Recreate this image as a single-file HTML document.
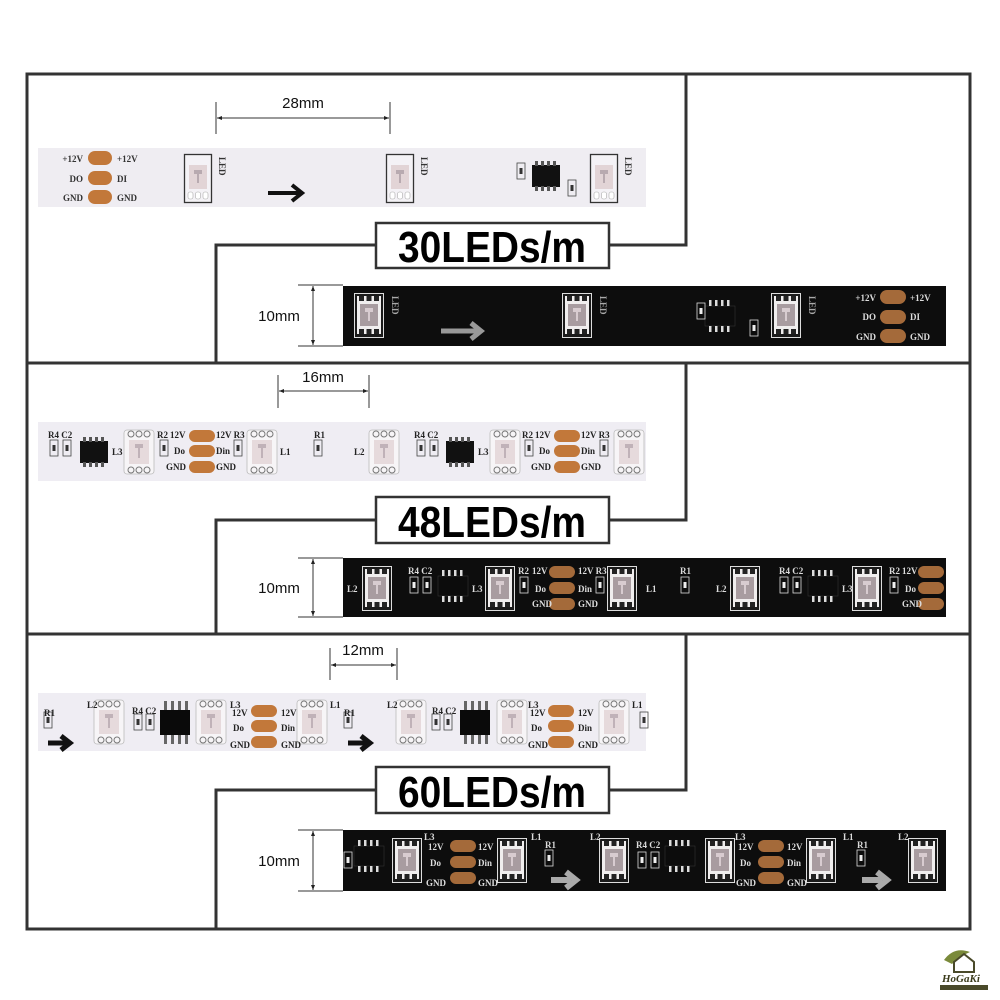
<!DOCTYPE html>
<html><head><meta charset="utf-8"><style>
html,body{margin:0;padding:0;background:#fff;width:1000px;height:1000px;overflow:hidden}
svg{display:block}
.s{font-family:"Liberation Serif",serif;font-weight:bold;font-size:9px}
.d{font-family:"Liberation Sans",sans-serif;font-size:15px;fill:#111}
.big{font-family:"Liberation Sans",sans-serif;font-weight:bold;font-size:44px;fill:#000}
</style></head><body>
<svg width="1000" height="1000" viewBox="0 0 1000 1000" xmlns="http://www.w3.org/2000/svg">
<defs>
<marker id="ah" viewBox="0 0 10 10" refX="10" refY="5" markerWidth="7" markerHeight="5" orient="auto-start-reverse"><path d="M0,1 L10,5 L0,9 z" fill="#222"/></marker>
<g id="ledW">
 <rect x="0.5" y="0.5" width="27" height="48" fill="#f4f2f6" stroke="#333" stroke-width="1.3"/>
 <rect x="5" y="11" width="18" height="24" fill="#e2d4d6"/>
 <path d="M10,16h8v4h-3v9h-2v-9h-3z" fill="#b8aab0"/>
 <rect x="4" y="38" width="5" height="7" rx="2" fill="#fff" stroke="#aaa" stroke-width=".6"/>
 <rect x="11.5" y="38" width="5" height="7" rx="2" fill="#fff" stroke="#aaa" stroke-width=".6"/>
 <rect x="19" y="38" width="5" height="7" rx="2" fill="#fff" stroke="#aaa" stroke-width=".6"/>
</g>
<g id="ledB">
 <rect x="0.5" y="0.5" width="29" height="44" fill="#1a1a1a" stroke="#ddd" stroke-width="1"/>
 <rect x="3" y="3" width="24" height="38" fill="#f0eeee"/>
 <rect x="6" y="11" width="18" height="22" fill="#a89ca0"/>
 <path d="M11,15h8v4h-3v9h-2v-9h-3z" fill="#d8ccd0"/>
 <rect x="5" y="3" width="5" height="5" fill="#222"/><rect x="12.5" y="3" width="5" height="5" fill="#222"/><rect x="20" y="3" width="5" height="5" fill="#222"/>
 <rect x="5" y="36" width="5" height="5" fill="#222"/><rect x="12.5" y="36" width="5" height="5" fill="#222"/><rect x="20" y="36" width="5" height="5" fill="#222"/>
</g>
<g id="ledW2">
 <rect x="0" y="0" width="30" height="44" rx="3" fill="#f7f5f7" stroke="#bbb" stroke-width=".8"/>
 <rect x="5" y="10" width="20" height="24" fill="#e6dadc"/>
 <path d="M11,14h8v4h-3v10h-2v-10h-3z" fill="#c0b2b8"/>
 <circle cx="7" cy="4" r="3" fill="none" stroke="#777"/><circle cx="15" cy="4" r="3" fill="none" stroke="#777"/><circle cx="23" cy="4" r="3" fill="none" stroke="#777"/>
 <circle cx="7" cy="40" r="3" fill="none" stroke="#777"/><circle cx="15" cy="40" r="3" fill="none" stroke="#777"/><circle cx="23" cy="40" r="3" fill="none" stroke="#777"/>
</g>
<g id="chipW">
 <rect x="0" y="4" width="28" height="22" fill="#111"/>
 <g fill="#555"><rect x="3" y="0" width="3" height="5"/><rect x="9" y="0" width="3" height="5"/><rect x="15" y="0" width="3" height="5"/><rect x="21" y="0" width="3" height="5"/>
 <rect x="3" y="25" width="3" height="5"/><rect x="9" y="25" width="3" height="5"/><rect x="15" y="25" width="3" height="5"/><rect x="21" y="25" width="3" height="5"/></g>
</g>
<g id="chipB">
 <rect x="0" y="6" width="30" height="20" fill="#0c0c0c" stroke="#333" stroke-width=".6"/>
 <g fill="#ddd"><rect x="4" y="0" width="2.5" height="6"/><rect x="10" y="0" width="2.5" height="6"/><rect x="16" y="0" width="2.5" height="6"/><rect x="22" y="0" width="2.5" height="6"/>
 <rect x="4" y="26" width="2.5" height="6"/><rect x="10" y="26" width="2.5" height="6"/><rect x="16" y="26" width="2.5" height="6"/><rect x="22" y="26" width="2.5" height="6"/></g>
</g>
<g id="res"><rect x="0" y="0" width="8" height="16" fill="none" stroke="#444" stroke-width=".8"/><rect x="2.5" y="5" width="3" height="6" fill="#333"/></g>
<g id="resB"><rect x="0" y="0" width="8" height="16" fill="none" stroke="#ddd" stroke-width=".8"/><rect x="2.5" y="5" width="3" height="6" fill="#eee"/></g>
<g id="pads3"><rect x="0" y="0" width="26" height="12" rx="6" fill="#c2783a"/><rect x="0" y="15" width="26" height="12" rx="6" fill="#c2783a"/><rect x="0" y="31" width="26" height="12" rx="6" fill="#c2783a"/></g>
<g id="pads3b"><rect x="0" y="0" width="26" height="12" rx="6" fill="#a46a3a"/><rect x="0" y="16" width="26" height="12" rx="6" fill="#a46a3a"/><rect x="0" y="32" width="26" height="12" rx="6" fill="#a46a3a"/></g>
</defs>

<g stroke="#333" stroke-width="3" fill="none">
 <rect x="27" y="74" width="943" height="855"/>
 <line x1="27" y1="363" x2="970" y2="363"/>
 <line x1="27" y1="634" x2="970" y2="634"/>
 <polyline points="686,74 686,245 609,245"/>
 <polyline points="376,245 216,245 216,363"/>
 <polyline points="686,363 686,520 609,520"/>
 <polyline points="376,520 216,520 216,634"/>
 <polyline points="686,634 686,790 609,790"/>
 <polyline points="376,790 216,790 216,929"/>
</g>
<g fill="#fff" stroke="#333" stroke-width="2.5">
 <rect x="376" y="223" width="233" height="45"/>
 <rect x="376" y="497" width="233" height="46"/>
 <rect x="376" y="767" width="233" height="46"/>
</g>
<text class="big" x="492" y="262" text-anchor="middle" textLength="188" lengthAdjust="spacingAndGlyphs">30LEDs/m</text>
<text class="big" x="492" y="537" text-anchor="middle" textLength="188" lengthAdjust="spacingAndGlyphs">48LEDs/m</text>
<text class="big" x="492" y="807" text-anchor="middle" textLength="188" lengthAdjust="spacingAndGlyphs">60LEDs/m</text>

<g stroke="#333" stroke-width="1">
 <line x1="216" y1="102" x2="216" y2="134"/><line x1="390" y1="102" x2="390" y2="134"/>
 <line x1="217" y1="118" x2="389" y2="118" marker-start="url(#ah)" marker-end="url(#ah)"/>
 <line x1="278" y1="375" x2="278" y2="408"/><line x1="369" y1="375" x2="369" y2="408"/>
 <line x1="279" y1="391" x2="368" y2="391" marker-start="url(#ah)" marker-end="url(#ah)"/>
 <line x1="330" y1="648" x2="330" y2="680"/><line x1="397" y1="648" x2="397" y2="680"/>
 <line x1="331" y1="665" x2="396" y2="665" marker-start="url(#ah)" marker-end="url(#ah)"/>
 <line x1="298" y1="285" x2="343" y2="285"/><line x1="298" y1="346" x2="343" y2="346"/>
 <line x1="313" y1="286" x2="313" y2="345" marker-start="url(#ah)" marker-end="url(#ah)"/>
 <line x1="298" y1="558" x2="343" y2="558"/><line x1="298" y1="617" x2="343" y2="617"/>
 <line x1="313" y1="559" x2="313" y2="616" marker-start="url(#ah)" marker-end="url(#ah)"/>
 <line x1="298" y1="830" x2="343" y2="830"/><line x1="298" y1="891" x2="343" y2="891"/>
 <line x1="313" y1="831" x2="313" y2="890" marker-start="url(#ah)" marker-end="url(#ah)"/>
</g>
<text class="d" x="303" y="108" text-anchor="middle">28mm</text>
<text class="d" x="323" y="382" text-anchor="middle">16mm</text>
<text class="d" x="363" y="655" text-anchor="middle">12mm</text>
<text class="d" x="279" y="321" text-anchor="middle">10mm</text>
<text class="d" x="279" y="593" text-anchor="middle">10mm</text>
<text class="d" x="279" y="866" text-anchor="middle">10mm</text>

<rect x="38" y="148" width="608" height="59" fill="#efedf2"/>
<g fill="#c2783a"><rect x="88" y="151" width="24" height="14" rx="7"/><rect x="88" y="171" width="24" height="14" rx="7"/><rect x="88" y="190" width="24" height="14" rx="7"/></g>
<g class="s" fill="#333">
 <text x="83" y="162" text-anchor="end">+12V</text><text x="83" y="182" text-anchor="end">DO</text><text x="83" y="201" text-anchor="end">GND</text>
 <text x="117" y="162">+12V</text><text x="117" y="182">DI</text><text x="117" y="201">GND</text>
</g>
<use href="#ledW" x="184" y="154"/><use href="#ledW" x="386" y="154"/><use href="#ledW" x="590" y="154"/>
<g class="s" font-size="7" fill="#333"><text transform="translate(219,157) rotate(90)">LED</text><text transform="translate(421,157) rotate(90)">LED</text><text transform="translate(625,157) rotate(90)">LED</text></g>
<path d="M268,193 H300 M292,185 L302,193 L292,201" stroke="#111" stroke-width="4" fill="none"/>
<use href="#chipW" x="532" y="161"/>
<use href="#res" x="517" y="163"/><use href="#res" x="568" y="180"/>

<rect x="343" y="286" width="603" height="60" fill="#0d0d0d"/>
<use href="#ledB" x="354" y="293"/><use href="#ledB" x="562" y="293"/><use href="#ledB" x="771" y="293"/>
<g class="s" font-size="7" fill="#aaa"><text transform="translate(392,296) rotate(90)">LED</text><text transform="translate(600,296) rotate(90)">LED</text><text transform="translate(809,296) rotate(90)">LED</text></g>
<path d="M441,331 H478 M471,323 L481,331 L471,339" stroke="#999" stroke-width="5" fill="none"/>
<use href="#chipB" x="705" y="300"/>
<use href="#resB" x="697" y="303"/><use href="#resB" x="750" y="320"/>
<g fill="#a46a3a"><rect x="880" y="290" width="26" height="14" rx="7"/><rect x="880" y="310" width="26" height="14" rx="7"/><rect x="880" y="329" width="26" height="14" rx="7"/></g>
<g class="s" fill="#ddd">
 <text x="876" y="301" text-anchor="end">+12V</text><text x="876" y="320" text-anchor="end">DO</text><text x="876" y="340" text-anchor="end">GND</text>
 <text x="910" y="301">+12V</text><text x="910" y="320">DI</text><text x="910" y="340">GND</text>
</g>

<rect x="38" y="422" width="608" height="59" fill="#efedf3"/>
<use href="#res" x="50" y="440"/><use href="#res" x="63" y="440"/>
<use href="#chipW" x="80" y="437"/>
<use href="#ledW2" x="124" y="430"/><use href="#ledW2" x="247" y="430"/><use href="#ledW2" x="369" y="430"/><use href="#ledW2" x="490" y="430"/><use href="#ledW2" x="614" y="430"/>
<use href="#res" x="160" y="440"/><use href="#res" x="234" y="440"/><use href="#res" x="314" y="440"/>
<use href="#res" x="417" y="440"/><use href="#res" x="430" y="440"/><use href="#res" x="525" y="440"/><use href="#res" x="600" y="440"/>
<use href="#chipW" x="446" y="437"/>
<use href="#pads3" x="189" y="430"/><use href="#pads3" x="554" y="430"/>
<g class="s" fill="#222">
 <text x="48" y="438">R4 C2</text><text x="157" y="438">R2</text><text x="170" y="438">12V</text><text x="174" y="454">Do</text><text x="166" y="470">GND</text>
 <text x="216" y="438">12V R3</text><text x="216" y="454">Din</text><text x="216" y="470">GND</text>
 <text x="112" y="455">L3</text><text x="280" y="455">L1</text><text x="314" y="438">R1</text><text x="354" y="455">L2</text>
 <text x="414" y="438">R4 C2</text><text x="522" y="438">R2</text><text x="535" y="438">12V</text><text x="539" y="454">Do</text><text x="531" y="470">GND</text>
 <text x="581" y="438">12V R3</text><text x="581" y="454">Din</text><text x="581" y="470">GND</text><text x="478" y="455">L3</text>
</g>

<rect x="343" y="558" width="603" height="59" fill="#0d0d0d"/>
<use href="#ledB" x="362" y="566"/><use href="#ledB" x="485" y="566"/><use href="#ledB" x="607" y="566"/><use href="#ledB" x="730" y="566"/><use href="#ledB" x="852" y="566"/>
<use href="#chipB" x="438" y="570"/><use href="#chipB" x="808" y="570"/>
<use href="#resB" x="410" y="577"/><use href="#resB" x="423" y="577"/><use href="#resB" x="520" y="577"/><use href="#resB" x="596" y="577"/><use href="#resB" x="681" y="577"/>
<use href="#resB" x="780" y="577"/><use href="#resB" x="793" y="577"/><use href="#resB" x="890" y="577"/>
<use href="#pads3b" x="549" y="566"/><use href="#pads3b" x="918" y="566"/>
<g class="s" fill="#ddd">
 <text x="408" y="574">R4 C2</text><text x="518" y="574">R2</text><text x="532" y="574">12V</text><text x="535" y="592">Do</text><text x="532" y="607">GND</text>
 <text x="578" y="574">12V R3</text><text x="578" y="592">Din</text><text x="578" y="607">GND</text>
 <text x="347" y="592">L2</text><text x="472" y="592">L3</text><text x="646" y="592">L1</text><text x="680" y="574">R1</text><text x="716" y="592">L2</text>
 <text x="779" y="574">R4 C2</text><text x="889" y="574">R2</text><text x="902" y="574">12V</text><text x="905" y="592">Do</text><text x="902" y="607">GND</text><text x="842" y="592">L3</text>
</g>

<rect x="38" y="693" width="608" height="58" fill="#efedf3"/>
<use href="#res" x="44" y="712"/><use href="#res" x="344" y="712"/><use href="#res" x="640" y="712"/>
<path d="M48,743 H66 M61,736 L70,743 L61,750" stroke="#111" stroke-width="5" fill="none"/>
<path d="M348,743 H366 M361,736 L370,743 L361,750" stroke="#111" stroke-width="5" fill="none"/>
<use href="#ledW2" x="94" y="700"/><use href="#ledW2" x="196" y="700"/><use href="#ledW2" x="297" y="700"/>
<use href="#ledW2" x="396" y="700"/><use href="#ledW2" x="497" y="700"/><use href="#ledW2" x="599" y="700"/>
<use href="#res" x="134" y="714"/><use href="#res" x="146" y="714"/><use href="#res" x="432" y="714"/><use href="#res" x="444" y="714"/>
<rect x="160" y="710" width="30" height="25" fill="#0a0a0a"/><rect x="460" y="710" width="30" height="25" fill="#0a0a0a"/>
<g fill="#666"><rect x="164" y="701" width="3" height="9"/><rect x="171" y="701" width="3" height="9"/><rect x="178" y="701" width="3" height="9"/><rect x="185" y="701" width="3" height="9"/>
<rect x="164" y="735" width="3" height="9"/><rect x="171" y="735" width="3" height="9"/><rect x="178" y="735" width="3" height="9"/><rect x="185" y="735" width="3" height="9"/>
<rect x="464" y="701" width="3" height="9"/><rect x="471" y="701" width="3" height="9"/><rect x="478" y="701" width="3" height="9"/><rect x="485" y="701" width="3" height="9"/>
<rect x="464" y="735" width="3" height="9"/><rect x="471" y="735" width="3" height="9"/><rect x="478" y="735" width="3" height="9"/><rect x="485" y="735" width="3" height="9"/></g>
<use href="#pads3" x="251" y="705"/><use href="#pads3" x="548" y="705"/>
<g class="s" fill="#222">
 <text x="44" y="716">R1</text><text x="87" y="708">L2</text><text x="132" y="714">R4 C2</text><text x="230" y="708">L3</text>
 <text x="232" y="716">12V</text><text x="233" y="731">Do</text><text x="230" y="748">GND</text>
 <text x="281" y="716">12V</text><text x="281" y="731">Din</text><text x="281" y="748">GND</text><text x="330" y="708">L1</text>
 <text x="344" y="716">R1</text><text x="387" y="708">L2</text><text x="432" y="714">R4 C2</text><text x="528" y="708">L3</text>
 <text x="530" y="716">12V</text><text x="531" y="731">Do</text><text x="528" y="748">GND</text>
 <text x="578" y="716">12V</text><text x="578" y="731">Din</text><text x="578" y="748">GND</text><text x="632" y="708">L1</text>
</g>

<rect x="343" y="830" width="603" height="61" fill="#0d0d0d"/>
<use href="#chipB" x="354" y="840"/><use href="#chipB" x="665" y="840"/>
<use href="#ledB" x="392" y="838"/><use href="#ledB" x="497" y="838"/><use href="#ledB" x="599" y="838"/><use href="#ledB" x="705" y="838"/><use href="#ledB" x="806" y="838"/><use href="#ledB" x="908" y="838"/>
<use href="#pads3b" x="450" y="840"/><use href="#pads3b" x="758" y="840"/>
<use href="#resB" x="545" y="850"/><use href="#resB" x="857" y="850"/><use href="#resB" x="638" y="852"/><use href="#resB" x="651" y="852"/><use href="#resB" x="344" y="852"/>
<path d="M551,880 H571 M566,872 L576,880 L566,888" stroke="#aaa" stroke-width="6" fill="none"/>
<path d="M862,880 H882 M877,872 L887,880 L877,888" stroke="#aaa" stroke-width="6" fill="none"/>
<g class="s" fill="#ddd">
 <text x="424" y="840">L3</text><text x="428" y="850">12V</text><text x="430" y="866">Do</text><text x="426" y="886">GND</text>
 <text x="478" y="850">12V</text><text x="478" y="866">Din</text><text x="478" y="886">GND</text><text x="531" y="840">L1</text><text x="545" y="848">R1</text>
 <text x="590" y="840">L2</text><text x="636" y="848">R4 C2</text><text x="735" y="840">L3</text><text x="738" y="850">12V</text><text x="740" y="866">Do</text><text x="736" y="886">GND</text>
 <text x="787" y="850">12V</text><text x="787" y="866">Din</text><text x="787" y="886">GND</text><text x="843" y="840">L1</text><text x="857" y="848">R1</text><text x="898" y="840">L2</text>
</g>

<g transform="translate(940,946)">
 <path d="M4,14 Q14,0 30,6 Q20,10 12,18 Z" fill="#7a8a3a"/>
 <path d="M14,16 L24,8 L34,16 V26 H14 Z" fill="none" stroke="#4a4a2a" stroke-width="2"/>
 <text x="2" y="36" font-family="Liberation Serif,serif" font-style="italic" font-weight="bold" font-size="11" fill="#3a3a1a">HoGaKi</text>
 <rect x="0" y="39" width="48" height="5" fill="#4a4a2a"/>
</g>
</svg>
</body></html>
